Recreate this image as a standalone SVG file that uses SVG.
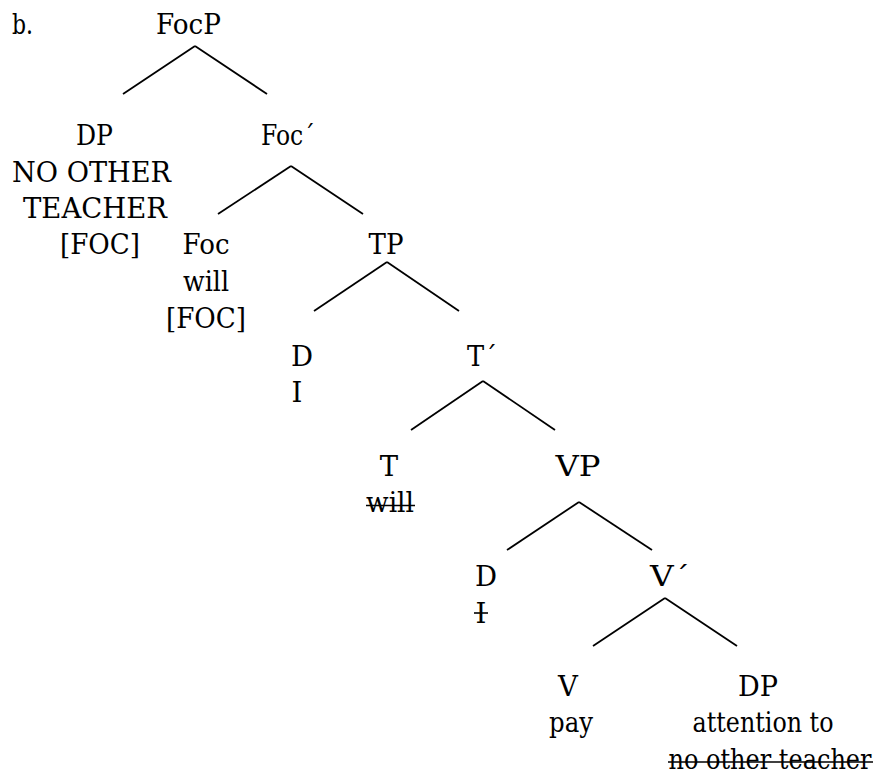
<svg xmlns="http://www.w3.org/2000/svg" width="878" height="774" viewBox="0 0 878 774" font-family="'DejaVu Serif', serif">
<style>
text{font-size:27.5px;fill:#000}
.m{text-anchor:middle}
line{stroke:#000;stroke-width:1.8}
.s{stroke-width:1.6}
</style>
<rect width="878" height="774" fill="#fff"/>
<g id="connectors">
<line x1="195" y1="46" x2="123" y2="94"/><line x1="195" y1="46" x2="267" y2="94"/>
<line x1="291" y1="166" x2="218" y2="214"/><line x1="291" y1="166" x2="363" y2="214"/>
<line x1="387" y1="262" x2="314" y2="311"/><line x1="387" y1="262" x2="459" y2="311"/>
<line x1="483" y1="381" x2="411" y2="430"/><line x1="483" y1="381" x2="555" y2="430"/>
<line x1="579" y1="502" x2="507" y2="550"/><line x1="579" y1="502" x2="652" y2="550"/>
<line x1="665" y1="598" x2="593" y2="646"/><line x1="665" y1="598" x2="737" y2="646"/>
</g>
<g id="label-b"><text x="12" y="34" textLength="21" lengthAdjust="spacingAndGlyphs">b.</text></g>
<g id="FocP"><text class="m" x="188.5" y="34" textLength="65" lengthAdjust="spacingAndGlyphs">FocP</text></g>
<g id="DP1"><text class="m" x="94.5" y="145" textLength="37" lengthAdjust="spacingAndGlyphs">DP</text><text class="m" x="91.5" y="182" textLength="159" lengthAdjust="spacingAndGlyphs">NO OTHER</text><text class="m" x="95" y="218" textLength="144" lengthAdjust="spacingAndGlyphs">TEACHER</text><text class="m" x="100" y="254" textLength="80" lengthAdjust="spacingAndGlyphs">[FOC]</text></g>
<g id="FocBar"><text x="261" y="145" textLength="54" lengthAdjust="spacingAndGlyphs">Foc´</text></g>
<g id="Foc"><text class="m" x="206" y="254" textLength="47" lengthAdjust="spacingAndGlyphs">Foc</text><text class="m" x="206" y="291" textLength="46" lengthAdjust="spacingAndGlyphs">will</text><text class="m" x="206" y="328" textLength="80" lengthAdjust="spacingAndGlyphs">[FOC]</text></g>
<g id="TP"><text class="m" x="386" y="254" textLength="35" lengthAdjust="spacingAndGlyphs">TP</text></g>
<g id="D1"><text class="m" x="302" y="366">D</text><text class="m" x="297" y="402">I</text></g>
<g id="TBar"><text x="467" y="366" textLength="30" lengthAdjust="spacingAndGlyphs">T´</text></g>
<g id="T"><text class="m" x="389" y="476">T</text><text class="m" x="390" y="512" textLength="48" lengthAdjust="spacingAndGlyphs">will</text><line class="s" x1="366" y1="505.5" x2="415" y2="505.5"/></g>
<g id="VP"><text class="m" x="578" y="476" textLength="45" lengthAdjust="spacingAndGlyphs">VP</text></g>
<g id="D2"><text class="m" x="486" y="586">D</text><text class="m" x="481" y="623">I</text><line class="s" x1="474" y1="613" x2="488" y2="613"/></g>
<g id="VBar"><text x="650" y="586" textLength="40" lengthAdjust="spacingAndGlyphs">V´</text></g>
<g id="V"><text class="m" x="568" y="696">V</text><text class="m" x="571" y="732" textLength="44" lengthAdjust="spacingAndGlyphs">pay</text></g>
<g id="DP2"><text class="m" x="758" y="696" textLength="40" lengthAdjust="spacingAndGlyphs">DP</text><text class="m" x="763" y="732" textLength="141" lengthAdjust="spacingAndGlyphs">attention to</text><text class="m" x="770" y="769" textLength="203" lengthAdjust="spacingAndGlyphs">no other teacher</text><line class="s" x1="668" y1="762" x2="873" y2="762"/></g>
</svg>
